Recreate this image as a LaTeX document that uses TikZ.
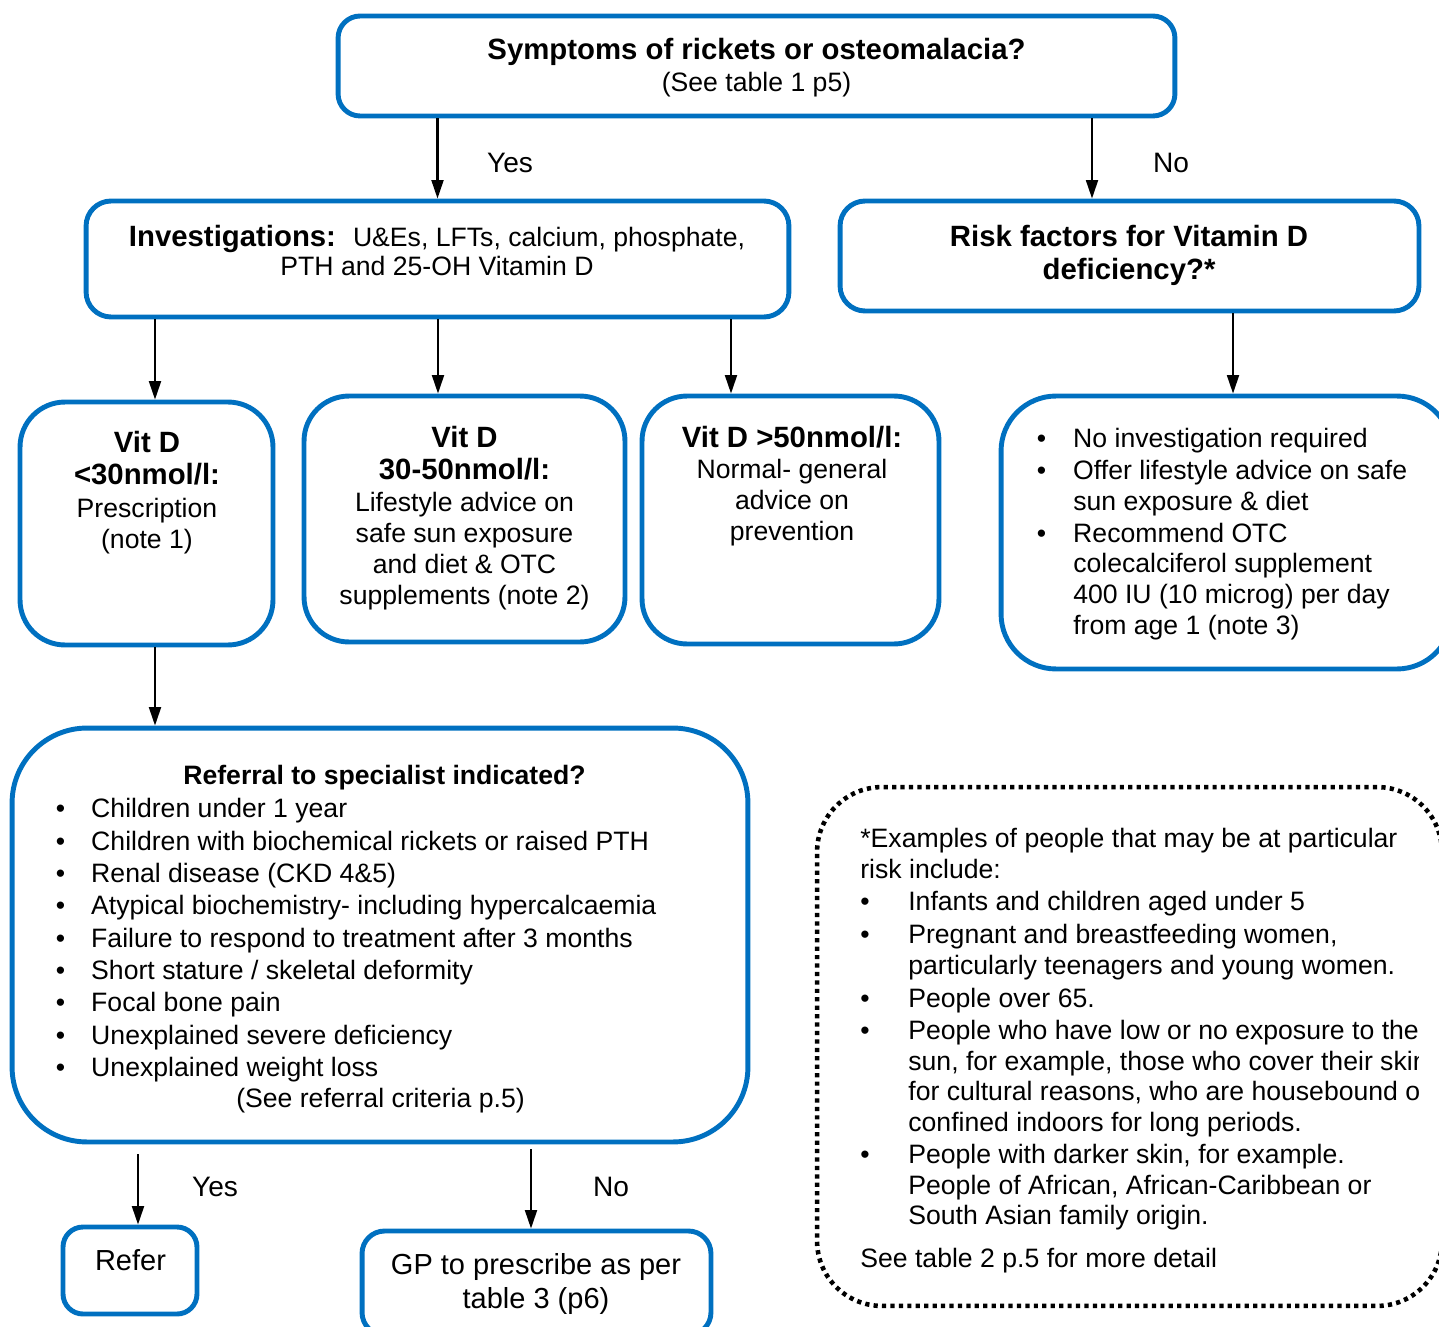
\documentclass[tikz,border=0pt]{standalone}
\usepackage{fontspec}
\setmainfont{Liberation Sans}
\usetikzlibrary{arrows.meta,calc}

\definecolor{boxblue}{RGB}{0,112,192}
\newcommand{\hd}{\fontsize{16.7}{18.7}\selectfont\bfseries}
\newcommand{\bul}[1][0.73cm]{\makebox[#1][l]{\textbullet}}
\newcommand{\ind}[1][0.73cm]{\hspace*{#1}}

\begin{document}
\begin{tikzpicture}[x=0.02cm, y=-0.02cm,
    box/.style={draw=boxblue, line width=2.8pt, rounded corners=#1, inner sep=0pt},
    box/.default=0.5cm,
    dotbox/.style={draw=black, line width=2.6pt, dash pattern=on 2.4pt off 2.4pt,
        rounded corners=1.3cm, inner sep=0pt},
    txt/.style={inner sep=0pt, align=center, anchor=north, font=\fontsize{15.15}{17.6}\selectfont},
    lst/.style={inner sep=0pt, align=left, anchor=north west, font=\fontsize{15.15}{17.6}\selectfont},
    lbl/.style={inner sep=0pt, font=\fontsize{16}{19}\selectfont},
    arr/.style={line width=1.15pt, -{Triangle[length=10.5pt,width=6.8pt]}}]
    \useasboundingbox (0,0) rectangle (1439,1327);

    % boxes
    \node[box=0.44cm, minimum width=16.74cm, minimum height=2cm] (sym) at (756.5,66) {};
    \node[box, minimum width=14.06cm, minimum height=2.32cm] (inv) at (437.5,259) {};
    \node[box, minimum width=11.58cm, minimum height=2.2cm] (risk) at (1129.5,256) {};
    \node[box=0.9cm, minimum width=5.06cm, minimum height=4.86cm] (low) at (146.5,523.5) {};
    \node[box=0.9cm, minimum width=6.42cm, minimum height=4.92cm] (mid) at (464.5,519) {};
    \node[box=0.9cm, minimum width=5.94cm, minimum height=4.96cm] (high) at (790.5,520) {};
    \node[box=1.1cm, minimum width=9.02cm, minimum height=5.46cm] (adv) at (1226.5,532.5) {};
    \node[box=1.5cm, minimum width=14.72cm, minimum height=8.28cm] (refq) at (380,935) {};
    \node[dotbox, minimum width=12.5cm, minimum height=10.38cm] (note) at (1129.5,1046.5) {};
    \node[box=0.4cm, minimum width=2.68cm, minimum height=1.74cm] (refer) at (130,1270.5) {};
    \node[box=0.45cm, minimum width=6.98cm, minimum height=2.08cm] (gp) at (536.5,1283) {};

    % texts
    \node[txt] (sym-t) at (756.5,38) {{\hd Symptoms of rickets or osteomalacia?}\\[0.5pt]
        (See table 1 p5)};
    \node[txt] (inv-t) at (437,225) {{\hd Investigations:}\hspace{0.34cm}U\&Es, LFTs, calcium, phosphate,\\[-0.9pt]
        PTH and 25-OH Vitamin D};
    \node[txt] (risk-t) at (1129,224.4) {{\hd Risk factors for Vitamin D}\\[1.7pt]
        {\hd deficiency?*}};
    \node[txt] (low-t) at (147,430.4) {{\hd Vit D}\\[1.1pt]
        {\hd <30nmol/l:}\\[1.1pt]
        Prescription\\
        (note 1)};
    \node[txt] (mid-t) at (464.5,425.4) {{\hd Vit D}\\[1.1pt]
        {\hd 30-50nmol/l:}\\[0.5pt]
        Lifestyle advice on\\
        safe sun exposure\\
        and diet \& OTC\\
        supplements (note 2)};
    \node[txt] (high-t) at (792,425.4) {{\hd Vit D >50nmol/l:}\\[0.5pt]
        Normal- general\\
        advice on\\
        prevention};
    \node[lst] (adv-t) at (1036.4,428) {\bul No investigation required\\[0.5pt]
        \bul Offer lifestyle advice on safe\\
        \ind sun exposure \& diet\\[0.8pt]
        \bul Recommend OTC\\[-0.5pt]
        \ind colecalciferol supplement\\
        \ind 400 IU (10 microg) per day\\
        \ind from age 1 (note 3)};
    \node[txt, font=\fontsize{15.15}{17.6}\selectfont\bfseries] (refq-t) at (384.5,765) {Referral to specialist indicated?};
    \node[lst, font=\fontsize{15.15}{18.4}\selectfont] (refq-l) at (55.4,798.2) {\bul[0.71cm]Children under 1 year\\
        \bul[0.71cm]Children with biochemical rickets or raised PTH\\
        \bul[0.71cm]Renal disease (CKD 4\&5)\\
        \bul[0.71cm]Atypical biochemistry- including hypercalcaemia\\
        \bul[0.71cm]Failure to respond to treatment after 3 months\\
        \bul[0.71cm]Short stature / skeletal deformity\\
        \bul[0.71cm]Focal bone pain\\
        \bul[0.71cm]Unexplained severe deficiency\\
        \bul[0.71cm]Unexplained weight loss};
    \node[txt] (refq-c) at (380.5,1088) {(See referral criteria p.5)};
    \begin{scope}
        \clip (840,800) rectangle (1418,1290);
        \node[lst, font=\fontsize{15.15}{17.3}\selectfont] (note-t) at (860,828) {*Examples of people that may be at particular\\
            risk include:\\[1.4pt]
            \bul[0.96cm]Infants and children aged under 5\\[1.4pt]
            \bul[0.96cm]Pregnant and breastfeeding women,\\
            \ind[0.96cm]particularly teenagers and young women.\\[1.4pt]
            \bul[0.96cm]People over 65.\\[1.4pt]
            \bul[0.96cm]People who have low or no exposure to the\\
            \ind[0.96cm]sun, for example, those who cover their skin\\
            \ind[0.96cm]for cultural reasons, who are housebound or\\
            \ind[0.96cm]confined indoors for long periods.\\[1.4pt]
            \bul[0.96cm]People with darker skin, for example.\\
            \ind[0.96cm]People of African, African-Caribbean or\\
            \ind[0.96cm]South Asian family origin.\\[7pt]
            See table 2 p.5 for more detail};
    \end{scope}
    \node[txt, font=\fontsize{16.5}{19.3}\selectfont] (refer-t) at (130.5,1249) {Refer};
    \node[txt, font=\fontsize{16.5}{19.3}\selectfont] (gp-t) at (536,1253) {GP to prescribe as per\\
        table 3 (p6)};

    % yes / no labels
    \node[lbl] (yes1) at (510,163) {Yes};
    \node[lbl] (no1) at (1171,163) {No};
    \node[lbl] (yes2) at (215,1187) {Yes};
    \node[lbl] (no2) at (611,1187) {No};

    % connectors
    \draw[arr] (sym.south -| inv.north) -- (inv.north);
    \draw[arr] ($(sym.south -| risk.north)+(-37.5,0)$) -- ($(risk.north)+(-37.5,0)$);
    \draw[arr] ($(inv.south -| low.north)+(8.5,0)$) -- ($(low.north)+(8.5,0)$);
    \draw[arr] ($(inv.south -| mid.north)+(-26.5,0)$) -- ($(mid.north)+(-26.5,0)$);
    \draw[arr] ($(inv.south -| high.north)+(-59.5,0)$) -- ($(high.north)+(-59.5,0)$);
    \draw[arr] ($(risk.south -| adv.north)+(6.5,0)$) -- ($(adv.north)+(6.5,0)$);
    \draw[arr] ($(low.south)+(8.5,0)$) -- ($(refq.north -| low.south)+(8.5,0)$);
    \draw[arr, shorten <=0.2cm] ($(refq.south -| refer.north)+(8,0)$) -- ($(refer.north)+(8,0)$);
    \draw[arr, shorten <=0.1cm] ($(refq.south -| gp.north)+(-5.5,0)$) -- ($(gp.north)+(-5.5,0)$);
\end{tikzpicture}
\end{document}
